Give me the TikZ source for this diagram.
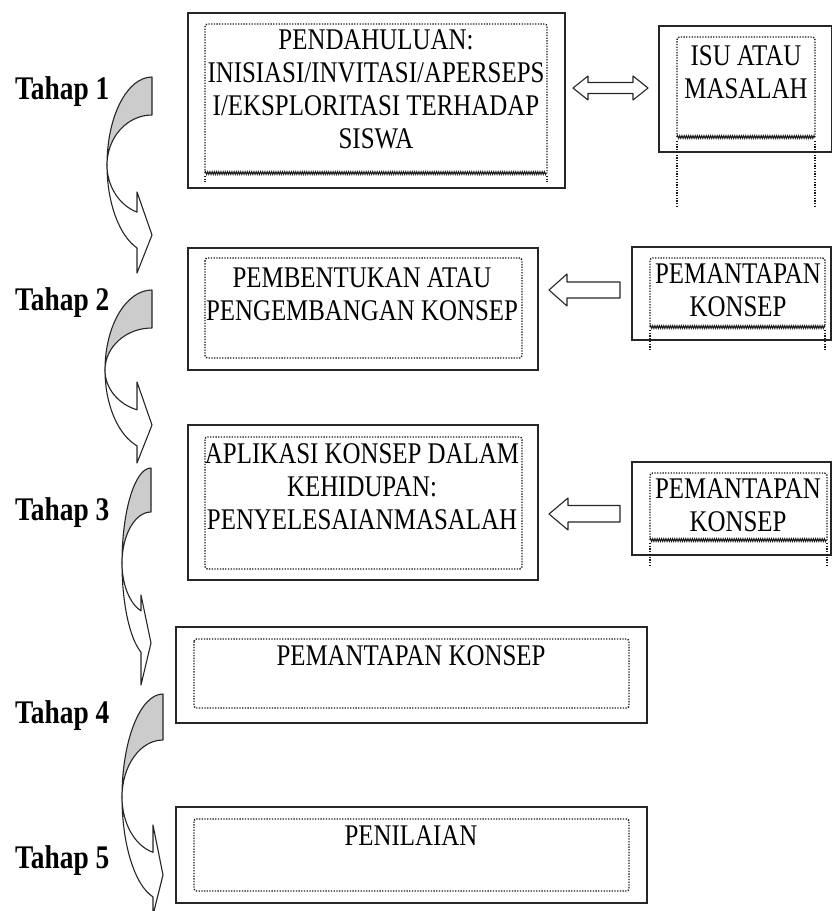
\documentclass[tikz,border=0pt]{standalone}
\usepackage{fontspec}
\setmainfont{Liberation Serif}[FakeStretch=0.83]
\usetikzlibrary{decorations.pathmorphing}
\definecolor{arrgray}{RGB}{204,204,204}
\tikzset{
 outerbox/.style={draw=black!85,line width=1.9pt},
 dotbox/.style={draw=black!90,line width=1.4pt,dash pattern=on 1.3pt off 1.4pt,rounded corners=2.5pt},
 wavy/.style={draw=black!90,line width=1pt,decorate,decoration={zigzag,amplitude=1.4pt,segment length=2.2pt}},
 boxtext/.style={anchor=north,inner sep=0pt,align=center,font=\fontsize{30}{33}\selectfont},
 tahap/.style={anchor=base west,inner sep=0pt,font=\fontsize{33}{36}\selectfont\bfseries},
 arrline/.style={draw=black!85,line width=1.1pt,line join=round},
}
% #1 right x, #2 top y, #3 rx, #4 big ry, #5 small ry, #6 head base x, #7 upper barb y, #8 tip y, #9 lower barb y
\newcommand\curvarrow[9]{%
 \pgfmathsetmacro\cC{#2+#4}%
 \pgfmathsetmacro\cTh{180+acos((#1-#6)/#3)}%
 \draw[arrline,fill=arrgray] (#1,-#2) arc[start angle=90,end angle=180,x radius=#3,y radius=#4]
   arc[start angle=180,end angle=90,x radius=#3,y radius=#5] -- cycle;
 \draw[arrline,fill=white] ({#1-#3},-\cC) arc[start angle=180,end angle=\cTh,x radius=#3,y radius=#5]
   -- (#6,-#7) -- (#1,-#8) -- (#6,-#9) -- ({#6},{-\cC+#4*sin(\cTh)})
   arc[start angle=\cTh,end angle=180,x radius=#3,y radius=#4] -- cycle;
}
\begin{document}
\begin{tikzpicture}[x=1pt,y=1pt]
\useasboundingbox (0,0) rectangle (833,-911);

% curved arrows
\curvarrow{152}{77}{45}{88}{50}{137}{192}{235}{273}
\curvarrow{152}{290}{47}{80}{42}{137}{382}{425}{463}
\curvarrow{151}{468}{29}{95}{51}{141}{595}{643}{685}
\curvarrow{163}{694}{41}{103}{57}{153}{825}{875}{915}

% labels
\node[tahap] (l1) at (15,-99) {Tahap 1};
\node[tahap] (l2) at (15,-310) {Tahap 2};
\node[tahap] (l3) at (15,-520) {Tahap 3};
\node[tahap] (l4) at (15,-723) {Tahap 4};
\node[tahap] (l5) at (15,-868) {Tahap 5};

% box 1
\draw[outerbox] (188,-13) rectangle (565,-188);
\draw[dotbox] (205,-173) -- (205,-24) -- (547,-24) -- (547,-173);
\draw[wavy] (205,-173) -- (547,-173);
\draw[dotbox] (205,-176) -- (205,-182) (547,-176) -- (547,-182);
\node[boxtext] (t1) at (376,-29) {PENDAHULUAN:\\INISIASI/INVITASI/APERSEPS\\I/EKSPLORITASI TERHADAP\\SISWA};

% ISU box
\draw[outerbox] (659,-26) rectangle (831.5,-152);
\draw[dotbox] (677,-137) -- (677,-37) -- (815,-37) -- (815,-137);
\draw[wavy] (677,-137) -- (815,-137);
\draw[dotbox] (677,-141) -- (677,-207) (815,-141) -- (815,-207);
\node[boxtext] (isu) at (746,-45) {ISU ATAU\\MASALAH};

% double arrow
\draw[arrline,fill=white] (573,-88) -- (588,-76) -- (588,-82.5) -- (633,-82.5) -- (633,-76) -- (648,-88)
  -- (633,-100) -- (633,-93.5) -- (588,-93.5) -- (588,-100) -- cycle;

% box 2
\draw[outerbox] (188,-248) rectangle (538,-370);
\draw[dotbox] (205,-258) rectangle (522,-358);
\node[boxtext] (t2) at (362,-267) {PEMBENTUKAN ATAU\\PENGEMBANGAN KONSEP};

% pemantapan 2
\draw[outerbox] (632,-247) rectangle (831,-340);
\draw[dotbox] (650,-327) -- (650,-258) -- (825,-258) -- (825,-327);
\draw[wavy] (650,-327) -- (825,-327);
\draw[dotbox] (650,-330) -- (650,-350) (825,-330) -- (825,-350);
\node[boxtext] (pk2) at (738,-263) {PEMANTAPAN\\KONSEP};
\draw[arrline,fill=white] (549,-290) -- (567,-274) -- (567,-282) -- (620,-282) -- (620,-298) -- (567,-298) -- (567,-306) -- cycle;

% box 3
\draw[outerbox] (188,-425) rectangle (538,-580);
\draw[dotbox] (205,-437) rectangle (522,-569);
\node[boxtext] (t3) at (362,-443) {APLIKASI KONSEP DALAM\\KEHIDUPAN:\\PENYELESAIAN\hspace{-0.2em} MASALAH};

% pemantapan 3
\draw[outerbox] (632,-462) rectangle (831,-555);
\draw[dotbox] (650,-540) -- (650,-473) -- (827,-473) -- (827,-540);
\draw[wavy] (650,-540) -- (827,-540);
\draw[dotbox] (650,-543) -- (650,-567) (827,-543) -- (827,-567);
\node[boxtext] (pk3) at (738,-478) {PEMANTAPAN\\KONSEP};
\draw[arrline,fill=white] (549,-514) -- (568,-498) -- (568,-505.5) -- (620,-505.5) -- (620,-522) -- (568,-522) -- (568,-530) -- cycle;

% box 4
\draw[outerbox] (176,-627) rectangle (647,-723);
\draw[dotbox] (194,-639) rectangle (629,-708);
\node[boxtext] (t4) at (411,-645) {PEMANTAPAN KONSEP};

% box 5
\draw[outerbox] (176,-807) rectangle (647,-903);
\draw[dotbox] (194,-819) rectangle (629,-891);
\node[boxtext] (t5) at (411,-825) {PENILAIAN};
\end{tikzpicture}
\end{document}
